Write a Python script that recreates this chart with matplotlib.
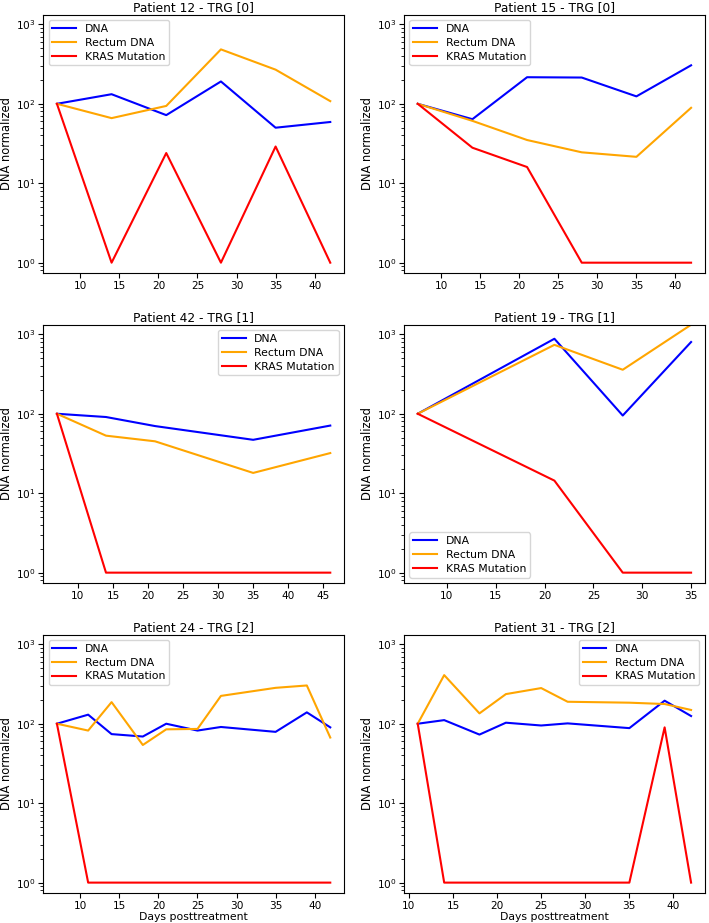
"""Six patient panels: DNA, rectum DNA and KRAS mutation, normalized, log scale."""

import matplotlib
matplotlib.use("Agg")
import matplotlib.pyplot as plt

# --- data ------------------------------------------------------------------
p12_days   = [7, 14, 21, 28, 35, 42]
p12_dna    = [100, 132, 72, 191, 50, 59]
p12_rectum = [100, 66, 94, 484, 269, 108]
p12_kras   = [100, 1, 24, 1, 29, 1]

p15_days   = [7, 14, 21, 28, 35, 42]
p15_dna    = [100, 64, 216, 214, 124, 305]
p15_rectum = [100, 61, 35, 24.5, 21.5, 89]
p15_kras   = [100, 28, 16, 1, 1, 1]

p42_days   = [7, 14, 21, 35, 46]
p42_dna    = [100, 91, 70, 47, 71]
p42_rectum = [100, 53, 45, 18, 32]
p42_kras   = [100, 1, 1, 1, 1]

p19_days   = [7, 21, 28, 35]
p19_dna    = [100, 879, 95, 800]
p19_rectum = [100, 737, 358, 1320]
p19_kras   = [100, 14.4, 1, 1]

p24_days   = [7, 11, 14, 18, 21, 25, 28, 35, 39, 42]
p24_dna    = [100, 130, 74, 69, 100, 82, 91, 79, 139, 90]
p24_rectum = [100, 82, 187, 54, 85, 86, 224, 283, 303, 67]
p24_kras   = [100, 1, 1, 1, 1, 1, 1, 1, 1, 1]

p31_days   = [11, 14, 18, 21, 25, 28, 35, 39, 42]
p31_dna    = [100, 111, 73, 103, 95, 101, 88, 195, 125]
p31_rectum = [100, 409, 135, 236, 281, 189, 184, 177, 149]
p31_kras   = [100, 1, 1, 1, 1, 1, 1, 90, 1]

titles = ["Patient 12 - TRG [0]", "Patient 15 - TRG [0]",
          "Patient 42 - TRG [1]", "Patient 19 - TRG [1]",
          "Patient 24 - TRG [2]", "Patient 31 - TRG [2]"]
legend_locs = ["upper left", "upper left", "upper right",
               "lower left", "upper left", "upper right"]

panels = [(p12_days, p12_dna, p12_rectum, p12_kras),
          (p15_days, p15_dna, p15_rectum, p15_kras),
          (p42_days, p42_dna, p42_rectum, p42_kras),
          (p19_days, p19_dna, p19_rectum, p19_kras),
          (p24_days, p24_dna, p24_rectum, p24_kras),
          (p31_days, p31_dna, p31_rectum, p31_kras)]

fig, axes = plt.subplots(3, 2, figsize=(7.09, 9.23), dpi=100)
fig.subplots_adjust(left=0.061, right=0.994, top=0.984, bottom=0.0325,
                    wspace=0.2, hspace=0.2)

for i, (ax, (days, dna, rect, kras)) in enumerate(zip(axes.flat, panels)):
    ax.plot(days, dna, color="blue", lw=1.5, label="DNA")
    ax.plot(days, rect, color="orange", lw=1.5, label="Rectum DNA")
    ax.plot(days, kras, color="red", lw=1.5, label="KRAS Mutation")
    ax.set_yscale("log")
    ax.set_ylim(0.74, 1320)
    ax.set_title(titles[i], fontsize=8.8, pad=3)
    ax.set_ylabel("DNA normalized", fontsize=8.3, labelpad=2)
    ax.tick_params(labelsize=7.6, pad=2)
    ax.legend(loc=legend_locs[i], fontsize=7.8, labelspacing=0.35,
              borderpad=0.35, handlelength=2.2)
    if i >= 4:
        ax.set_xlabel("Days posttreatment", fontsize=7.8, labelpad=1)

fig.savefig("out.png", dpi=100)
